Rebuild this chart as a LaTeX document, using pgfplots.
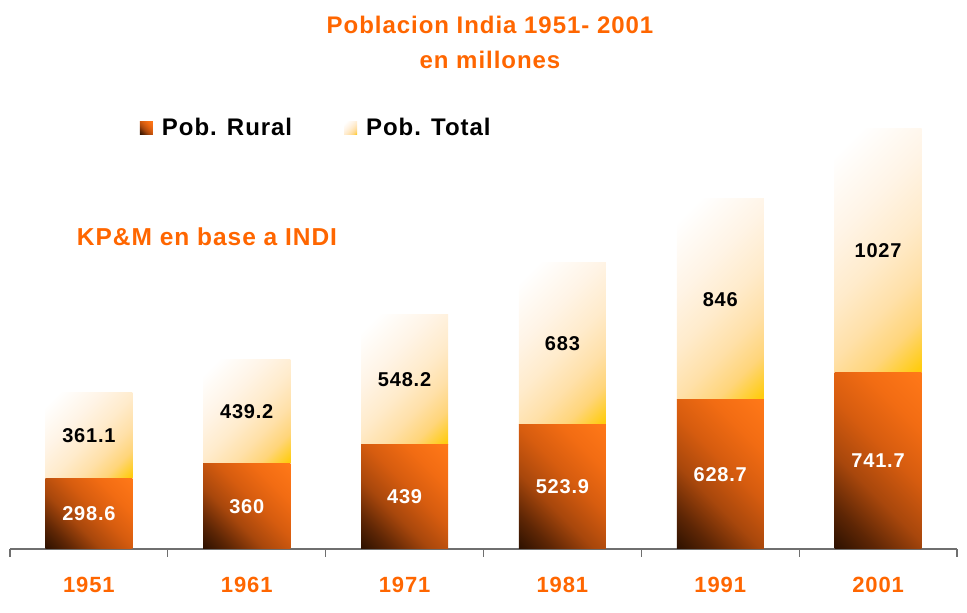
\documentclass[border=0pt]{standalone}
\usepackage{pgfplots}
\pgfplotsset{compat=1.18}
\usepackage{fontspec}
\setmainfont{Liberation Sans}[LetterSpace=4]

\definecolor{kpOrange}{HTML}{FF6600}
\definecolor{ruralDark}{HTML}{2A1000}
\definecolor{ruralBrown}{HTML}{5E2605}
\definecolor{ruralRust}{HTML}{A8470C}
\definecolor{ruralMid}{HTML}{D65C0F}
\definecolor{ruralOrange}{HTML}{F26C13}
\definecolor{ruralLight}{HTML}{FF7818}
\definecolor{totalCream}{HTML}{FFF4E6}
\definecolor{totalPale}{HTML}{FFEBCB}
\definecolor{totalPeach}{HTML}{FFE0A8}
\definecolor{totalApricot}{HTML}{FFD57A}
\definecolor{totalGold}{HTML}{FFCC10}
\definecolor{axisGray}{HTML}{6F6F6F}

% diagonal shadings, one per series (left = start colour)
\pgfdeclarehorizontalshading{ruralshade}{100bp}{%
  color(0bp)=(ruralDark); color(14bp)=(ruralDark); color(26bp)=(ruralBrown);
  color(40bp)=(ruralRust); color(55bp)=(ruralMid); color(70bp)=(ruralOrange);
  color(85bp)=(ruralLight); color(100bp)=(ruralLight)}
\pgfdeclarehorizontalshading{totalshade}{100bp}{%
  color(0bp)=(white); color(20bp)=(white); color(38bp)=(totalCream);
  color(52bp)=(totalPale); color(64bp)=(totalPeach); color(74bp)=(totalApricot);
  color(84bp)=(totalGold); color(100bp)=(totalGold)}

\pgfplotsset{
  rural bar/.style={draw=none, shading=ruralshade, shading angle=45},
  total bar/.style={draw=none, shading=totalshade, shading angle=-45},
  same frame/.style={
    scale only axis, width=947pt, height=420pt,
    xmin=-0.5, xmax=5.5, ymin=0, ymax=1768.7, clip=false,
  },
}

\newcommand{\bigbf}[1]{\fontsize{#1}{#1}\selectfont\bfseries}

% one category: rural bar, total bar on top of it, then an empty bar that
% brings the stack back to zero so the next category starts from the base line
% (each bar is its own plot so that its shading fits that bar alone)
\newcommand{\popyear}[4]{%
  \addplot[rural bar, forget plot] coordinates {(#1,#2)};
  \addplot[total bar, forget plot] coordinates {(#1,#3)};
  \addplot[draw=none, fill=none, forget plot] coordinates {(#1,#4)};
}

\begin{document}
\begin{tikzpicture}
  \useasboundingbox (-10pt,-64pt) rectangle (957pt,549pt);

  \begin{axis}[
    same frame,
    ybar stacked,
    stack negative=on previous,
    bar width=87pt,
    axis y line=none,
    axis x line*=bottom,
    axis line style={axisGray, line width=1.2pt},
    xtick={0,1,2,3,4,5},
    xticklabels={1951,1961,1971,1981,1991,2001},
    major tick length=0pt,
    minor xtick={-0.5,0.5,1.5,2.5,3.5,4.5,5.5},
    minor tick length=8pt,
    xtick align=outside,
    minor tick style={axisGray, line width=1.2pt},
    xticklabel style={text=kpOrange, font=\bigbf{22}, yshift=-25pt},
    legend columns=2,
    legend style={at={(0.137,1.0024)}, anchor=west, draw=none, fill=none,
      inner sep=0pt, font=\bigbf{24},
      /tikz/every odd column/.append style={column sep=7pt},
      /tikz/every even column/.append style={column sep=50pt}},
    legend image code/.code={\path[#1] (0pt,-6.5pt) rectangle (13pt,6.5pt);},
  ]
    %        year  rural   total   reset
    \popyear{0}{298.6}{361.1}{-659.7}
    \popyear{1}{360}{439.2}{-799.2}
    \popyear{2}{439}{548.2}{-987.2}
    \popyear{3}{523.9}{683}{-1206.9}
    \popyear{4}{628.7}{846}{-1474.7}
    \popyear{5}{741.7}{1027}{-1768.7}

    \addlegendimage{rural bar}
    \addlegendentry{Pob. Rural}
    \addlegendimage{total bar}
    \addlegendentry{Pob. Total}
  \end{axis}

  % value labels, centred in each segment
  \begin{axis}[same frame, hide axis]
    \addplot[draw=none, mark=none, nodes near coords, point meta=explicit symbolic,
      nodes near coords style={anchor=center, text=white, font=\bigbf{20}}]
      coordinates {
        (0,149.3)[298.6] (1,180)[360] (2,219.5)[439]
        (3,261.95)[523.9] (4,314.35)[628.7] (5,370.85)[741.7]
      };
    \addplot[draw=none, mark=none, nodes near coords, point meta=explicit symbolic,
      nodes near coords style={anchor=center, text=black, font=\bigbf{20}}]
      coordinates {
        (0,479.15)[361.1] (1,579.6)[439.2] (2,713.1)[548.2]
        (3,865.4)[683] (4,1051.7)[846] (5,1255.2)[1027]
      };
  \end{axis}

  \node[text=kpOrange, font=\bigbf{24}] at (480pt,524pt) {Poblacion India 1951- 2001};
  \node[text=kpOrange, font=\bigbf{24}] at (480pt,489pt) {en millones};
  \node[text=kpOrange, font=\bigbf{24.5}] at (197pt,312pt) {KP\&M en base a INDI};
\end{tikzpicture}
\end{document}
